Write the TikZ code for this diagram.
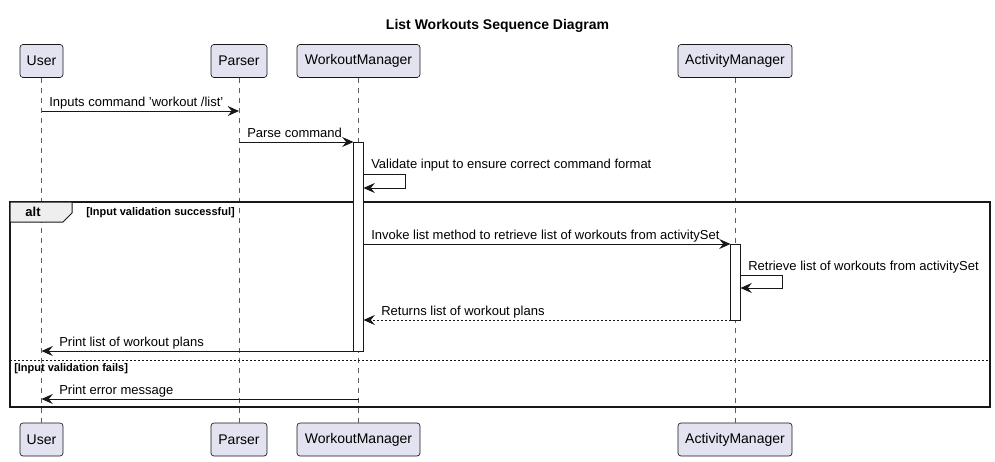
\documentclass[tikz,border=0pt]{standalone}
\usepackage{fontspec}
\setmainfont{Liberation Sans}
\usetikzlibrary{arrows.meta}
\definecolor{partfill}{HTML}{E2E2F0}
\definecolor{ink}{HTML}{181818}
\definecolor{tabfill}{HTML}{EEEEEE}
\tikzset{
  part/.style={draw=ink, fill=partfill, rounded corners=2.25pt, line width=0.5pt, minimum height=24.75pt, inner sep=0pt, font=\fontsize{10.5}{12}\selectfont},
  lifeline/.style={draw=ink!70, line width=0.5pt, dash pattern=on 3.75pt off 3.75pt},
  msg/.style={draw=ink, line width=0.75pt, -{Stealth[length=8.5pt,width=7.5pt,inset=3pt]}},
  ret/.style={msg, dash pattern=on 1.5pt off 1.5pt},
  lbl/.style={anchor=base west, inner sep=0pt, font=\fontsize{9.75}{11}\selectfont},
  actbar/.style={draw=ink, fill=white, line width=0.75pt, minimum width=7.5pt, inner sep=0pt, outer sep=0pt},
}
\begin{document}
\begin{tikzpicture}[x=0.75pt, y=-0.75pt]
\useasboundingbox (0,0) rectangle (995,461);
% title
\node[anchor=base, inner sep=0pt, font=\fontsize{10.5}{12}\selectfont\bfseries] (title) at (497.5,29) {List Workouts Sequence Diagram};
% participants
\node[part, minimum width=32.25pt] (uTop) at (41.5,61) {User};
\node[part, minimum width=42pt] (pTop) at (239,61) {Parser};
\node[part, minimum width=92.25pt] (wTop) at (358.5,61) {WorkoutManager};
\node[part, minimum width=85.5pt] (aTop) at (735,61) {ActivityManager};
\node[part, minimum width=32.25pt] (uBot) at (41.5,439.5) {User};
\node[part, minimum width=42pt] (pBot) at (239,439.5) {Parser};
\node[part, minimum width=92.25pt] (wBot) at (358.5,439.5) {WorkoutManager};
\node[part, minimum width=85.5pt] (aBot) at (735,439.5) {ActivityManager};
% lifelines
\draw[lifeline] (uTop) -- (uBot);
\draw[lifeline] (pTop) -- (pBot);
\draw[lifeline] (wTop) -- (wBot);
\draw[lifeline] (aTop) -- (aBot);
% alt frame
\draw[line width=1.5pt, draw=ink] (10,202) rectangle (990,407);
\draw[fill=tabfill, draw=ink, line width=0.75pt] (10,202) -- (72,202) -- (72,213) -- (63,222) -- (10,222) -- cycle;
\node[anchor=base, inner sep=0pt, font=\fontsize{9.75}{11}\selectfont\bfseries] (altlbl) at (33,216.5) {alt};
\node[anchor=base west, inner sep=0pt, font=\fontsize{8.25}{10}\selectfont\bfseries] (g1) at (86,215.5) {[Input validation successful]};
\draw[draw=ink, line width=0.75pt, dash pattern=on 1.5pt off 1.5pt] (10,360) -- (990,360);
\node[anchor=base west, inner sep=0pt, font=\fontsize{8.25}{10}\selectfont\bfseries] (g2) at (14,371.5) {[Input validation fails]};
% activation bars
\node[actbar, minimum height=156.75pt, anchor=north] (wAct) at (358.5,142) {};
\node[actbar, minimum height=57pt, anchor=north] (aAct) at (735.5,244) {};
% coordinates for rows
\coordinate (r1) at (0,111);
\coordinate (r6) at (0,399);
% message 1
\draw[msg] (uTop |- r1) -- (pTop |- r1);
\node[lbl] (l1) at (49,106) {Inputs command 'workout /list'};
% message 2
\draw[msg] (pTop |- wAct.north west) -- (wAct.north west);
\node[lbl] (l2) at (247,137) {Parse command};
% self message WM
\coordinate (s1a) at (405,174);
\coordinate (s1b) at (405,188);
\draw[msg] (wAct.east |- s1a) -- (s1a) -- (s1b) -- (wAct.east |- s1b);
\node[lbl] (l3) at (371,168) {Validate input to ensure correct command format};
% message 3
\draw[msg] (wAct.east |- aAct.north west) -- (aAct.north west);
\node[lbl] (l4) at (371,239) {Invoke list method to retrieve list of workouts from activitySet};
% self message AM
\coordinate (s2a) at (782.5,275.5);
\coordinate (s2b) at (782.5,288);
\draw[msg] (aAct.east |- s2a) -- (s2a) -- (s2b) -- (aAct.east |- s2b);
\node[lbl] (l5) at (748,270) {Retrieve list of workouts from activitySet};
% return
\draw[ret] (aAct.south west) -- (wAct.east |- aAct.south west);
\node[lbl] (l6) at (381,315) {Returns list of workout plans};
% print list
\draw[msg] (wAct.south west) -- (uTop |- wAct.south west);
\node[lbl] (l7) at (59,346) {Print list of workout plans};
% error
\draw[msg] (wTop |- r6) -- (uTop |- r6);
\node[lbl] (l8) at (59,394) {Print error message};
\end{tikzpicture}
\end{document}
